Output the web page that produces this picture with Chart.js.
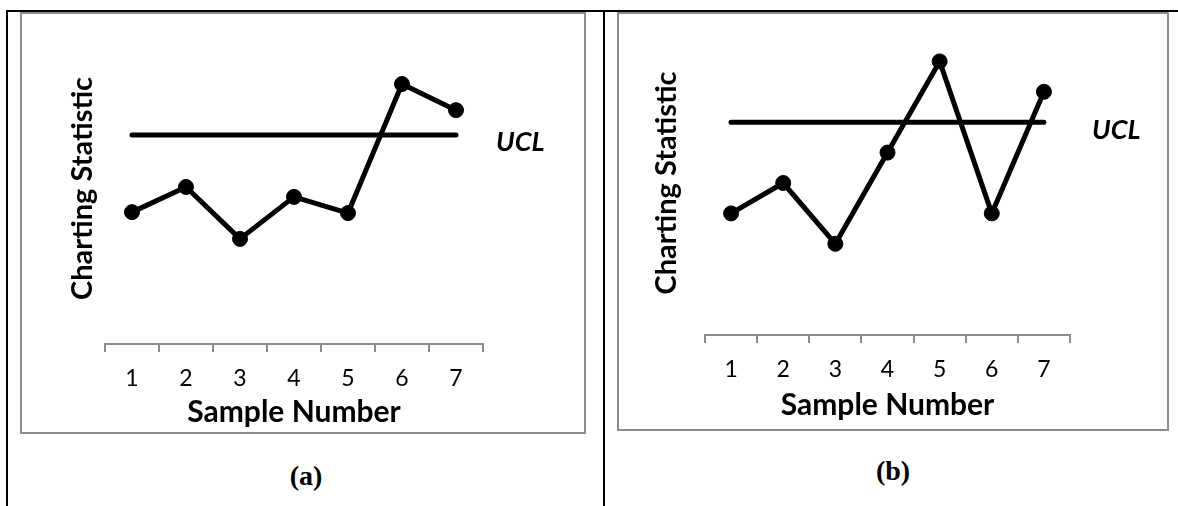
<!DOCTYPE html>
<html><head><meta charset="utf-8">
<script src="https://cdn.jsdelivr.net/npm/chart.js@4.4.1/dist/chart.umd.min.js"></script>
<style>
html,body{margin:0;padding:0;background:#fff;}
body{width:1178px;height:506px;position:relative;overflow:hidden;}
.rule{position:absolute;background:#000;}
.frame{position:absolute;box-sizing:border-box;border:2px solid #8c8c8c;}
canvas{position:absolute;}
.cap{position:absolute;font-family:"Liberation Serif","Times New Roman",serif;font-weight:bold;font-size:28px;transform:translate(-50%,-50%);white-space:nowrap;color:#000;line-height:1;}
</style></head><body>
<div class="rule" style="left:6px;top:10px;width:1172px;height:2px"></div>
<div class="rule" style="left:6px;top:10px;width:2px;height:496px"></div>
<div class="rule" style="left:603px;top:10px;width:2px;height:496px"></div>
<div class="frame" style="left:20px;top:12px;width:566px;height:422px"></div>
<div class="frame" style="left:617px;top:12px;width:552px;height:419px"></div>
<canvas id="ca" width="565" height="421" style="left:20px;top:12px"></canvas>
<canvas id="cb" width="551" height="418" style="left:617px;top:12px"></canvas>
<div class="cap" style="left:306px;top:476px">(a)</div>
<div class="cap" style="left:893px;top:471px">(b)</div>
<script>
// ---- data ----
const samples = ['1', '2', '3', '4', '5', '6', '7'];
const statA = [4.24, 5.05, 3.38, 4.73, 4.21, 8.36, 7.52];
const uclA  = [6.72, 6.72, 6.72, 6.72, 6.72, 6.72, 6.72];
const statB = [4, 5, 3, 6, 9, 4, 8];
const uclB  = [7, 7, 7, 7, 7, 7, 7];
const xTitle = 'Sample Number';
const yTitle = 'Charting Statistic';
const uclText = 'UCL';

const uclLabel = {
  id: 'uclLabel',
  afterDatasetsDraw(chart, args, opts) {
    const {ctx, chartArea, scales} = chart;
    const y = scales.y.getPixelForValue(opts.value);
    ctx.save();
    ctx.font = 'italic bold 27px Lato';
    ctx.fillStyle = '#000';
    ctx.textAlign = 'left';
    ctx.textBaseline = 'middle';
    ctx.fillText(opts.text, chartArea.right + opts.dx, y + opts.dy);
    ctx.restore();
  }
};

function panel(id, stat, ucl, g) {
  return new Chart(document.getElementById(id), {
    type: 'line',
    data: {
      labels: samples,
      datasets: [
        {data: stat, borderColor: '#000', backgroundColor: '#000', borderWidth: 5,
         pointRadius: 7.5, pointBorderWidth: 1, pointBackgroundColor: '#000', pointBorderColor: '#000',
         borderJoinStyle: 'round', tension: 0},
        {data: ucl, borderColor: '#000', borderWidth: 5, pointRadius: 0,
         borderCapStyle: 'round', tension: 0}
      ]
    },
    options: {
      responsive: false, animation: false, devicePixelRatio: 1,
      layout: {padding: {left: g.pl, right: g.pr, top: g.pt, bottom: 0}},
      plugins: {
        legend: {display: false}, tooltip: {enabled: false},
        uclLabel: {value: ucl[0], text: uclText, dx: g.udx, dy: g.udy}
      },
      scales: {
        x: {
          offset: true,
          grid: {offset: true, drawOnChartArea: false, drawTicks: true, tickLength: 8, color: '#8c8c8c', lineWidth: 2},
          border: {display: true, color: '#8c8c8c', width: 2},
          ticks: {padding: 13, color: '#000', font: {family: 'Lato', size: 23, lineHeight: '26.4px'}},
          title: {display: true, text: xTitle, color: '#000',
                  font: {family: 'Lato', size: 30, weight: 'bold', lineHeight: '36px'},
                  padding: {top: g.xtt, bottom: g.xtb}}
        },
        y: {
          min: 0, max: 10,
          grid: {display: false, drawTicks: false},
          border: {display: false},
          ticks: {display: false},
          title: {display: true, text: yTitle, color: '#000',
                  font: {family: 'Lato', size: 29, weight: 'bold', lineHeight: '36px'},
                  padding: {top: 0, bottom: g.ytb}}
        }
      }
    },
    plugins: [uclLabel]
  });
}

panel('ca', statA, uclA, {pl: 45, pr: 102, pt: 21, xtt: -10.4, xtb: 3, ytb: 4, udx: 13, udy: 7});
panel('cb', statB, uclB, {pl: 32, pr: 98, pt: 19, xtt: -8.4, xtb: 7, ytb: 20, udx: 22, udy: 8});
</script>
</body></html>
